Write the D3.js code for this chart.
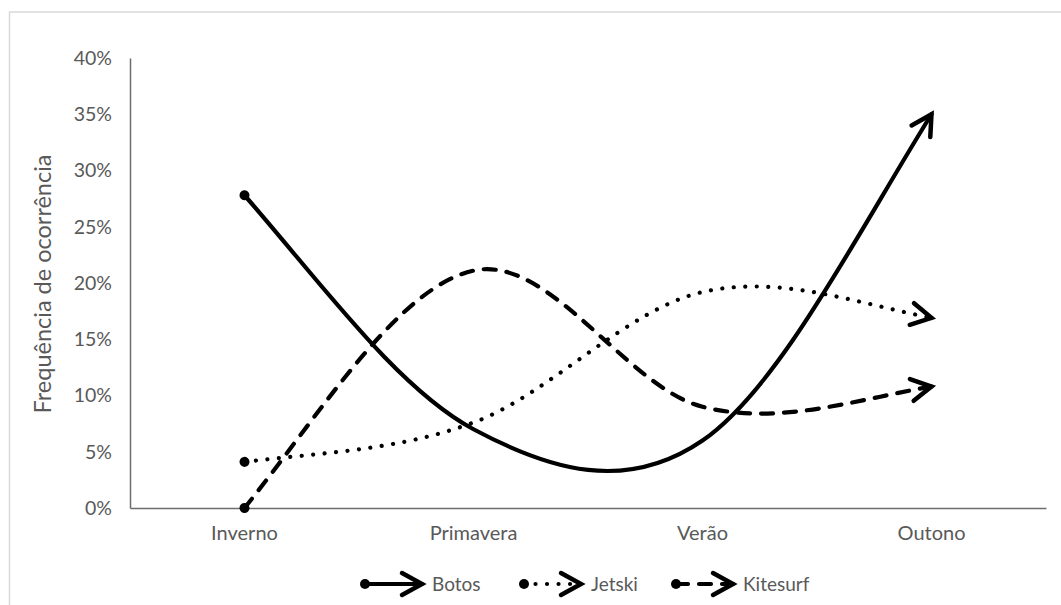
<!DOCTYPE html>
<html>
<head>
<meta charset="utf-8">
<script src="https://cdn.jsdelivr.net/npm/d3@7"></script>
<style>
  html, body { margin: 0; padding: 0; background: #fff; }
  svg { display: block; font-family: Lato, "Open Sans", sans-serif; }
</style>
</head>
<body>
<svg id="chart" width="1061" height="605"></svg>
<script>
// Seasonal frequency of occurrence per activity
const categories = ["Inverno", "Primavera", "Verão", "Outono"];
const botos    = [0.278, 0.070, 0.060, 0.350];
const jetski   = [0.041, 0.076, 0.192, 0.169];
const kitesurf = [0.000, 0.211, 0.090, 0.108];
const yTicks = [0, 0.05, 0.10, 0.15, 0.20, 0.25, 0.30, 0.35, 0.40];
const seriesNames = ["Botos", "Jetski", "Kitesurf"];

const series = [
  { name: seriesNames[0], values: botos,    dash: null },
  { name: seriesNames[1], values: jetski,   dash: "0.01 11.5" },
  { name: seriesNames[2], values: kitesurf, dash: "12 11" }
];

const svg = d3.select("#chart");
const textColor = "#595959";
const axisColor = "#6d6d6d";

// outer chart frame
svg.append("rect")
  .attr("x", 9.5).attr("y", 12).attr("width", 1100).attr("height", 700)
  .attr("fill", "none").attr("stroke", "#d9d9d9").attr("stroke-width", 1.5);

const x = d3.scaleBand().domain(categories).range([130, 1046]);
const xc = c => x(c) + x.bandwidth() / 2;
const y = d3.scaleLinear().domain([0, 0.40]).range([508, 58]);

// Smoothed curve: Catmull-Rom tangents inside, blended end tangents
function smoothCurve(context) {
  let pts = [];
  return {
    areaStart() {}, areaEnd() {},
    lineStart() { pts = []; },
    point(px, py) { pts.push([+px, +py]); },
    lineEnd() {
      const n = pts.length;
      if (!n) return;
      context.moveTo(pts[0][0], pts[0][1]);
      if (n === 1) return;
      if (n === 2) { context.lineTo(pts[1][0], pts[1][1]); return; }
      const m = pts.map(() => [0, 0]);
      for (let i = 1; i < n - 1; i++) {
        m[i] = [(pts[i + 1][0] - pts[i - 1][0]) / 2, (pts[i + 1][1] - pts[i - 1][1]) / 2];
      }
      for (let k = 0; k < 2; k++) {
        m[0][k] = (5 * (pts[1][k] - pts[0][k]) - m[1][k]) / 4;
        m[n - 1][k] = (5 * (pts[n - 1][k] - pts[n - 2][k]) - m[n - 2][k]) / 4;
      }
      for (let i = 0; i < n - 1; i++) {
        context.bezierCurveTo(
          pts[i][0] + m[i][0] / 3, pts[i][1] + m[i][1] / 3,
          pts[i + 1][0] - m[i + 1][0] / 3, pts[i + 1][1] - m[i + 1][1] / 3,
          pts[i + 1][0], pts[i + 1][1]);
      }
    }
  };
}

// line-end markers: filled oval at the start, open arrow at the end
const defs = svg.append("defs");
defs.append("marker")
  .attr("id", "oval").attr("markerUnits", "userSpaceOnUse")
  .attr("viewBox", "-7 -7 14 14").attr("refX", 0).attr("refY", 0)
  .attr("markerWidth", 14).attr("markerHeight", 14).attr("orient", "auto")
  .append("circle").attr("r", 5).attr("fill", "#000");
defs.append("marker")
  .attr("id", "arrow").attr("markerUnits", "userSpaceOnUse")
  .attr("viewBox", "-26 -16 30 32").attr("refX", 0).attr("refY", 0)
  .attr("markerWidth", 30).attr("markerHeight", 32).attr("orient", "auto")
  .style("overflow", "visible")
  .append("path").attr("d", "M-20,-11L0,0L-20,11")
  .attr("fill", "none").attr("stroke", "#000").attr("stroke-width", 4.5)
  .attr("stroke-linecap", "round").attr("stroke-linejoin", "miter");

// axes
const yAxis = svg.append("g").attr("transform", "translate(130,0)")
  .call(d3.axisLeft(y).tickValues(yTicks).tickFormat(d3.format(".0%"))
    .tickSize(0).tickPadding(18));
const xAxis = svg.append("g").attr("transform", "translate(0,508)")
  .call(d3.axisBottom(x).tickSize(0).tickSizeOuter(0).tickPadding(18));
[yAxis, xAxis].forEach(g => {
  g.select(".domain").attr("stroke", axisColor).attr("stroke-width", 1.5);
  g.selectAll("text").attr("fill", textColor)
    .style("font-family", "Lato, 'Open Sans', sans-serif");
});
yAxis.selectAll("text").style("font-size", "19.5px");
xAxis.selectAll("text").style("font-size", "20px");

svg.append("text")
  .attr("transform", "translate(51,284) rotate(-90)")
  .attr("text-anchor", "middle")
  .attr("fill", textColor).style("font-size", "23.5px")
  .text("Frequência de ocorrência");

// series lines
const line = d3.line()
  .x((d, i) => xc(categories[i]))
  .y(d => y(d))
  .curve(smoothCurve);

svg.append("g").selectAll("path").data(series).join("path")
  .attr("d", d => line(d.values))
  .attr("fill", "none").attr("stroke", "#000").attr("stroke-width", 4.2)
  .attr("stroke-linecap", "round")
  .attr("stroke-dasharray", d => d.dash)
  .attr("marker-start", "url(#oval)")
  .attr("marker-end", "url(#arrow)");

// legend
const legendX = [365, 524, 676];
const legend = svg.append("g").selectAll("g").data(series).join("g")
  .attr("transform", (d, i) => `translate(${legendX[i]},584)`);
legend.append("path")
  .attr("d", "M0,0L57,0")
  .attr("fill", "none").attr("stroke", "#000").attr("stroke-width", 4.2)
  .attr("stroke-linecap", "round")
  .attr("stroke-dasharray", d => d.dash)
  .attr("marker-start", "url(#oval)")
  .attr("marker-end", "url(#arrow)");
legend.append("text")
  .attr("x", 67).attr("y", 0).attr("dy", "0.35em")
  .attr("fill", textColor).style("font-size", "19px")
  .text(d => d.name);
</script>
</body>
</html>
